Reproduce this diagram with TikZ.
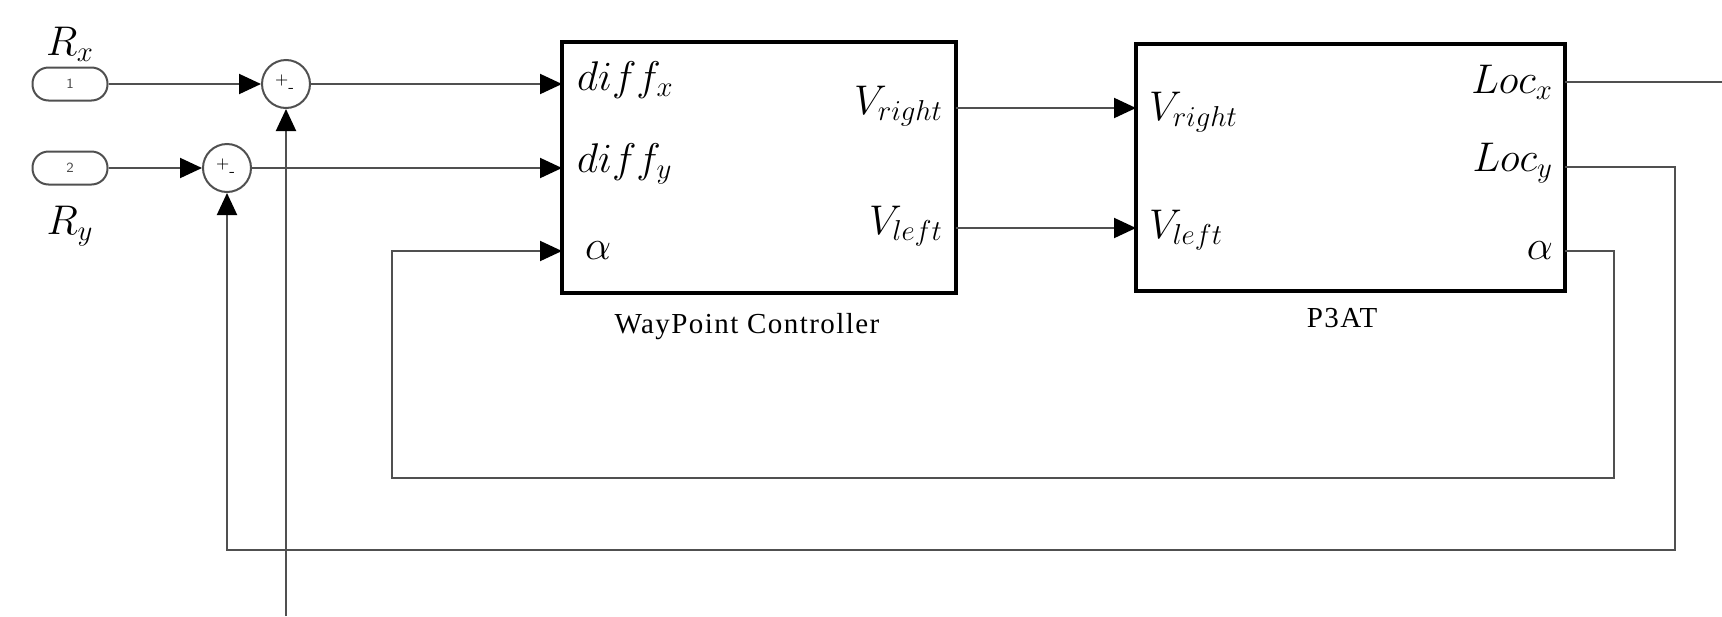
\documentclass[tikz,border=0pt]{standalone}
\usepackage{amsmath}
\usepackage{fontspec}
\newfontfamily\capfont[LetterSpace=5]{Liberation Serif}
\usetikzlibrary{arrows.meta}

\begin{document}
\begin{tikzpicture}[x=0.5pt,y=-0.5pt]
    % 定义颜色
    \definecolor{linegray}{RGB}{80,80,80}
    % 端口文字字体
    \newcommand{\PortFont}{\fontsize{21}{24}\selectfont}

    % --- 设置全局样式 ---
    % 模块框样式
    \tikzset{BlockStyle/.style = {
        draw=black,             % 边框颜色
        line width=2pt,         % 边框粗细
        fill=white,             % 填充颜色
        inner sep=0pt
    }}
    % 求和节点样式
    \tikzset{SumStyle/.style = {
        shape=circle,           % 形状：圆
        draw=linegray,
        line width=1pt,
        minimum size=24pt,
        inner sep=0pt,
        font=\sffamily\fontsize{8}{8}\selectfont
    }}
    % 输入端口样式
    \tikzset{InportStyle/.style = {
        draw=linegray,
        line width=1pt,
        rounded corners=8pt,    % 圆角
        minimum width=37.5pt,
        minimum height=16.5pt,
        inner sep=0pt,
        text=black!70,
        font=\sffamily\fontsize{7}{8}\selectfont
    }}
    % 连线样式
    \tikzset{EdgeStyle/.style = {
        -{Triangle[length=11pt,width=10pt,color=black]},  % 箭头
        line width=1pt,         % 线条粗细
        color=linegray          % 线条颜色
    }}
    \tikzset{LineStyle/.style = {
        line width=1pt,
        color=linegray
    }}

    % 边界
    \useasboundingbox (0,0) rectangle (1722,616);

    % --- 定义节点 ---
    % 输入端口
    \node[InportStyle] (In1) at (70,84) {1};
    \node[InportStyle] (In2) at (70,168) {2};
    \node[font=\PortFont] (Rx) at (70,44) {$R_x$};
    \node[font=\PortFont] (Ry) at (70,226) {$R_y$};

    % 求和节点
    \node[SumStyle] (S1) at (286,84) {+\raisebox{-4pt}{-}\,};
    \node[SumStyle] (S2) at (227,168) {+\raisebox{-4pt}{-}\,};

    % 模块
    \node[BlockStyle, minimum width=197pt, minimum height=125.5pt] (WP) at (759,167.5) {};
    \node[BlockStyle, minimum width=214.5pt, minimum height=123.5pt] (P3) at (1350.5,167.5) {};
    \node[font=\capfont\fontsize{14.5}{16}\selectfont] (WPname) at (747,327) {WayPoint Controller};
    \node[font=\capfont\fontsize{14.5}{16}\selectfont] (P3name) at (1342,318) {P3AT};

    % 端口坐标
    \coordinate (WPdx) at (562,84);
    \coordinate (WPdy) at (562,168);
    \coordinate (WPal) at (562,251);
    \coordinate (WPvr) at (956,108);
    \coordinate (WPvl) at (956,228);
    \coordinate (P3vr) at (1136,108);
    \coordinate (P3vl) at (1136,228);
    \coordinate (P3lx) at (1565,82);
    \coordinate (P3ly) at (1565,167);
    \coordinate (P3al) at (1565,251);
    \coordinate (OutX) at (1722,82);
    \coordinate (Bot1) at (286,616);

    % 端口文字
    \node[font=\PortFont, anchor=west] (WPdxT) at (570,80) {$diff_x$};
    \node[font=\PortFont, anchor=west] (WPdyT) at (570,164) {$diff_y$};
    \node[font=\PortFont, anchor=west] (WPalT) at (578,251) {$\alpha$};
    \node[font=\PortFont, anchor=east] (WPvrT) at (950,106) {$V_{right}$};
    \node[font=\PortFont, anchor=east] (WPvlT) at (950,226) {$V_{left}$};
    \node[font=\PortFont, anchor=west] (P3vrT) at (1142,112) {$V_{right}$};
    \node[font=\PortFont, anchor=west] (P3vlT) at (1142,230) {$V_{left}$};
    \node[font=\PortFont, anchor=east] (P3lxT) at (1560,82) {$Loc_x$};
    \node[font=\PortFont, anchor=east] (P3lyT) at (1560,163) {$Loc_y$};
    \node[font=\PortFont, anchor=east] (P3alT) at (1560,251) {$\alpha$};

    % --- 定义连线 ---
    \draw[EdgeStyle] (In1) -- (S1);
    \draw[EdgeStyle] (In2) -- (S2);
    \draw[EdgeStyle] (S1) -- (WPdx);
    \draw[EdgeStyle] (S2) -- (WPdy);
    \draw[EdgeStyle] (WPvr) -- (P3vr);
    \draw[EdgeStyle] (WPvl) -- (P3vl);
    \draw[LineStyle] (P3lx) -- (OutX);
    \draw[EdgeStyle] (Bot1) -- (S1);
    % 反馈 alpha
    \draw[EdgeStyle] (P3al) -| (1614,478) -| (392,251) -- (WPal);
    % 反馈 Loc_y
    \draw[EdgeStyle] (P3ly) -| (1675,550) -| (S2);

  \end{tikzpicture}
\end{document}
